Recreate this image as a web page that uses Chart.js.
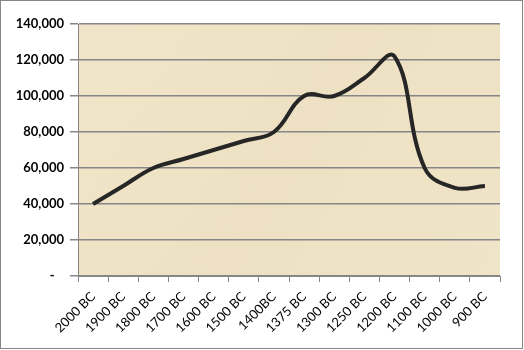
<!DOCTYPE html>
<html>
<head>
<meta charset="utf-8">
<script src="https://cdn.jsdelivr.net/npm/chart.js@4/dist/chart.umd.min.js"></script>
<style>
  html, body { margin: 0; padding: 0; background: #fff; }
  #wrap { width: 524px; height: 350px; }
</style>
</head>
<body>
<div id="wrap"><canvas id="chart" width="524" height="350"></canvas></div>
<script>
const periods = ['2000 BC', '1900 BC', '1800 BC', '1700 BC', '1600 BC', '1500 BC', '1400BC',
                 '1375 BC', '1300 BC', '1250 BC', '1200 BC', '1100 BC', '1000 BC', '900 BC'];
const values = [40000, 50000, 60000, 65000, 70000, 75000, 80000,
                100000, 100000, 110000, 122000, 60000, 49000, 50000];
const yTicks = [0, 20000, 40000, 60000, 80000, 100000, 120000, 140000];

// parchment fill behind the plot, grey frame round the whole chart
const backdrop = {
  id: 'backdrop',
  beforeDraw(chart) {
    const { ctx, chartArea: a } = chart;
    ctx.save();
    const g = ctx.createLinearGradient(a.left, a.top, a.right, a.bottom);
    g.addColorStop(0, '#F1E5C9');
    g.addColorStop(0.5, '#EEE1C3');
    g.addColorStop(1, '#F0E4C8');
    ctx.fillStyle = g;
    ctx.fillRect(a.left, a.top, a.right - a.left, a.bottom - a.top);
    ctx.restore();
  },
  afterDraw(chart) {
    const ctx = chart.ctx;
    ctx.save();
    ctx.strokeStyle = '#868686';
    ctx.lineWidth = 1;
    ctx.strokeRect(0.5, 0.5, 522, 348);
    ctx.restore();
  }
};

const ctx = document.getElementById('chart').getContext('2d');
new Chart(ctx, {
  type: 'line',
  data: {
    labels: periods,
    datasets: [{
      data: values,
      borderColor: '#262626',
      borderWidth: 4,
      tension: 0.4,
      pointRadius: 0,
      fill: false
    }]
  },
  options: {
    responsive: false,
    animation: false,
    layout: { padding: { top: 24, right: 24, left: 0, bottom: 0 } },
    plugins: {
      legend: { display: false },
      tooltip: { enabled: false }
    },
    scales: {
      x: {
        offset: true,
        afterFit: s => { s.height = 74; },
        grid: {
          offset: true,
          drawOnChartArea: false,
          drawTicks: true,
          tickLength: 6,
          color: '#868686'
        },
        border: { color: '#868686', width: 1 },
        ticks: {
          minRotation: 45,
          maxRotation: 45,
          autoSkip: false,
          padding: 7,
          color: '#000',
          font: { family: 'Lato', size: 13 }
        }
      },
      y: {
        min: 0,
        max: 140000,
        afterFit: s => { s.width = 78; },
        afterBuildTicks: s => { s.ticks = yTicks.map(v => ({ value: v })); },
        grid: {
          color: '#868686',
          lineWidth: 1.5,
          tickLength: 8
        },
        border: { color: '#868686', width: 1 },
        ticks: {
          padding: 6,
          color: '#000',
          font: { family: 'Lato', size: 13, weight: 'bold' },
          callback: v => v === 0 ? '-   ' : v.toLocaleString('en-US')
        }
      }
    }
  },
  plugins: [backdrop]
});
</script>
</body>
</html>
